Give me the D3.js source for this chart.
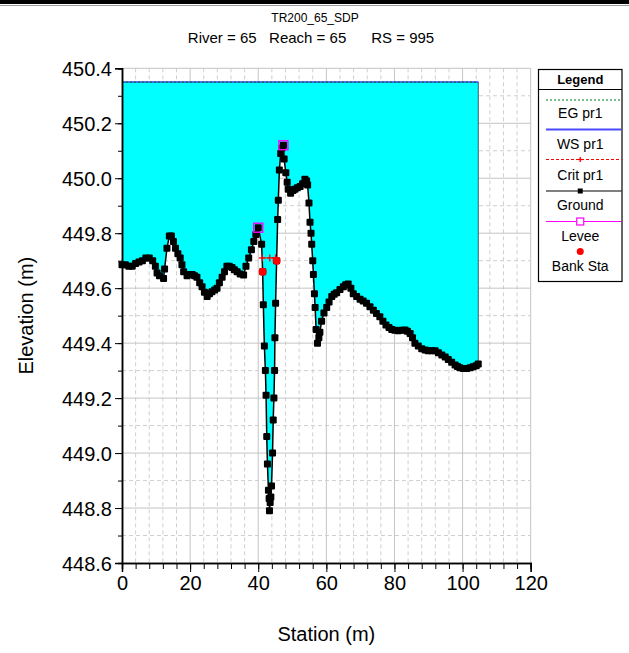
<!DOCTYPE html>
<html>
<head>
<meta charset="utf-8">
<script src="https://cdn.jsdelivr.net/npm/d3@7"></script>
<style>
  html, body { margin: 0; padding: 0; background: #fff; }
  svg { display: block; font-family: "Liberation Sans", Arial, sans-serif; }
</style>
</head>
<body>
<svg id="chart" width="629" height="653"></svg>
<script>
// Cross section TR200_65_SDP, RS 995
const titleLine1 = "TR200_65_SDP";
const titleLine2 = "River = 65   Reach = 65      RS = 995";

// Ground survey points (station m, elevation m)
const groundSta = [
  0, 1, 2, 3, 4, 5, 6, 7, 8, 9, 9.8, 10.3, 11, 12.2, 12.5, 13.2, 13.9, 14.5, 15.1, 15.7,
  16.4, 17.1, 17.6, 18.1, 19.1, 20.0, 20.6, 21.3, 22.0, 22.8, 23.5, 24.2, 25.0, 25.7, 26.4,
  27.2, 27.9, 28.6, 29.4, 30.1, 30.8, 31.5, 32.3, 33.0, 33.8, 34.7, 35.7, 36.4, 37.2, 38.0,
  38.7, 39.3, 40.0, 41.0, 41.3, 41.5, 41.8, 42.1, 42.3, 42.5, 42.7, 43.0, 43.2, 43.3, 43.5,
  43.7, 43.9, 44.2, 44.4, 44.6, 44.8, 44.9, 45.1, 45.4, 45.7, 45.9, 46.2, 46.6, 47.0, 47.4,
  47.6, 48.1, 48.5, 48.8, 49.5, 50.2, 50.8, 51.5, 52.3, 53.0, 53.7, 54.2, 54.5, 54.9, 55.2,
  55.5, 55.7, 56.0, 56.2, 56.5, 56.7, 57.0, 57.4, 57.8, 58.1, 58.6, 59.3, 60.1, 60.8, 61.6,
  62.3, 63.0, 64.0, 65.0, 65.7, 66.4, 67.2, 67.9, 68.9, 69.9, 70.8, 71.8, 72.8, 73.8, 74.7,
  75.7, 76.6, 77.5, 78.4, 79.2, 80.1, 81.1, 82.1, 83.1, 83.8, 84.6, 85.3, 86.0, 87.0, 88.0,
  89.0, 89.9, 90.9, 91.9, 92.9, 93.9, 94.9, 95.8, 96.8, 97.8, 98.5, 99.2, 100.2, 101.2, 102.2,
  103.1, 104.0, 104.6
];
const groundElev = [
  449.685, 449.685, 449.68, 449.68, 449.69, 449.695, 449.70, 449.71, 449.71, 449.70, 449.68, 449.655, 449.645, 449.635, 449.67, 449.745, 449.79, 449.79, 449.77, 449.745,
  449.725, 449.71, 449.685, 449.66, 449.645, 449.65, 449.65, 449.645, 449.64, 449.62, 449.605, 449.585, 449.57, 449.58, 449.587,
  449.593, 449.60, 449.62, 449.64, 449.66, 449.68, 449.68, 449.675, 449.667, 449.66, 449.652, 449.648, 449.68, 449.71, 449.74,
  449.77, 449.795, 449.82, 449.76, 449.66, 449.54, 449.39, 449.30, 449.21, 449.06, 448.96, 448.865, 448.835, 448.79, 448.82,
  448.84, 448.88, 449.00, 449.12, 449.20, 449.30, 449.42, 449.545, 449.70, 449.85, 449.92, 450.03, 450.09, 450.11, 450.12,
  450.07, 450.02, 449.985, 449.96, 449.945, 449.955, 449.96, 449.965, 449.97, 449.98, 449.996, 449.99, 449.975, 449.91, 449.84,
  449.80, 449.76, 449.70, 449.65, 449.58, 449.53, 449.45, 449.40, 449.42, 449.44, 449.48, 449.51, 449.53, 449.55, 449.57,
  449.578, 449.583, 449.595, 449.605, 449.612, 449.615, 449.60, 449.58, 449.57, 449.56, 449.553, 449.545, 449.532, 449.52, 449.508,
  449.496, 449.48, 449.466, 449.457, 449.45, 449.447, 449.445, 449.447, 449.448, 449.443, 449.435, 449.42, 449.40, 449.39, 449.38,
  449.375, 449.372, 449.372, 449.372, 449.365, 449.357, 449.35, 449.34, 449.33, 449.32, 449.315, 449.31, 449.308, 449.308, 449.31,
  449.314, 449.318, 449.324
];

// Profile results
const wsElev = 450.35;      // WS pr1
const egElev = 450.35;      // EG pr1
const critSta = [41.2, 43.4, 45.1];
const critElev = 449.71;    // Crit pr1
const bankSta = [41.3, 45.4];
const bankElev = [449.66, 449.70];
const leveeSta = [40.0, 47.4];
const leveeElev = [449.82, 450.12];

// Axis ticks
const xMajorTicks = [0, 20, 40, 60, 80, 100, 120];
const xMinorTicks = d3.range(0, 121, 4);
const yMajorTicks = [448.6, 448.8, 449.0, 449.2, 449.4, 449.6, 449.8, 450.0, 450.2, 450.4];
const yMinorTicks = d3.range(0, 19).map(i => +(448.6 + i * 0.1).toFixed(1));

const legendNames = ["EG pr1", "WS pr1", "Crit pr1", "Ground", "Levee", "Bank Sta"];

const svg = d3.select("#chart");
const W = 629, H = 653;
const plot = { left: 122, right: 530.7, top: 68.3, bottom: 563 };

const x = d3.scaleLinear().domain([0, 120]).range([plot.left, plot.right]);
const y = d3.scaleLinear().domain([448.6, 450.4]).range([plot.bottom, plot.top]);

// window frame strip
svg.append("rect").attr("x", 0).attr("y", 0).attr("width", W).attr("height", 4).attr("fill", "#000");
svg.append("line").attr("x1", 0).attr("x2", W).attr("y1", 5.5).attr("y2", 5.5)
  .attr("stroke", "#9a9a9a").attr("stroke-width", 1);

// titles
svg.append("text").attr("x", 315).attr("y", 22).attr("text-anchor", "middle")
  .attr("font-size", 12).text(titleLine1);
svg.append("text").attr("x", 311).attr("y", 43).attr("text-anchor", "middle")
  .attr("font-size", 15).attr("xml:space", "preserve").style("white-space", "pre")
  .text(titleLine2);

// grid
const grid = svg.append("g");
xMinorTicks.forEach(v => {
  const major = v % 20 === 0;
  if (v === 0) return;
  grid.append("line")
    .attr("x1", x(v)).attr("x2", x(v)).attr("y1", plot.top).attr("y2", plot.bottom)
    .attr("stroke", major ? "#c4c4c4" : "#cfcfcf").attr("stroke-width", 1)
    .attr("stroke-dasharray", major ? null : "4,3");
});
yMinorTicks.forEach((v, i) => {
  if (i === 0) return;
  const major = i % 2 === 0;
  grid.append("line")
    .attr("x1", plot.left).attr("x2", plot.right).attr("y1", y(v)).attr("y2", y(v))
    .attr("stroke", major ? "#c4c4c4" : "#cfcfcf").attr("stroke-width", 1)
    .attr("stroke-dasharray", major ? null : "4,3");
});

const ground = groundSta.map((s, i) => [s, groundElev[i]]);
const s0 = groundSta[0], s1 = groundSta[groundSta.length - 1];

// water between WS and ground
const waterPts = [[s0, wsElev], [s1, wsElev]].concat(ground.slice().reverse());
svg.append("path")
  .attr("d", d3.line().x(d => x(d[0])).y(d => y(d[1]))(waterPts) + "Z")
  .attr("fill", "#00ffff").attr("stroke", "none");
svg.append("line").attr("x1", x(s1)).attr("x2", x(s1)).attr("y1", y(wsElev)).attr("y2", y(groundElev[groundElev.length - 1]))
  .attr("stroke", "#3a5a66").attr("stroke-width", 1);

// WS and EG
svg.append("line").attr("x1", x(s0)).attr("x2", x(s1)).attr("y1", y(wsElev)).attr("y2", y(wsElev))
  .attr("stroke", "#3d3dff").attr("stroke-width", 1.6);
svg.append("line").attr("x1", x(s0)).attr("x2", x(s1)).attr("y1", y(egElev)).attr("y2", y(egElev))
  .attr("stroke", "#007a20").attr("stroke-width", 1.2).attr("stroke-dasharray", "2,2");

// ground
svg.append("path")
  .attr("d", d3.line().x(d => x(d[0])).y(d => y(d[1]))(ground))
  .attr("fill", "none").attr("stroke", "#000").attr("stroke-width", 1.5);
svg.append("g").selectAll("rect").data(ground).join("rect")
  .attr("x", d => x(d[0]) - 3.5).attr("y", d => y(d[1]) - 3.5)
  .attr("width", 7).attr("height", 7).attr("rx", 1).attr("fill", "#000");

// critical depth
svg.append("line").attr("x1", x(critSta[0])).attr("x2", x(critSta[critSta.length - 1]))
  .attr("y1", y(critElev)).attr("y2", y(critElev))
  .attr("stroke", "#ff0000").attr("stroke-width", 1).attr("stroke-dasharray", "3,2");
const plus = (g, cx, cy, r) => {
  g.append("line").attr("x1", cx - r).attr("x2", cx + r).attr("y1", cy).attr("y2", cy).attr("stroke", "#ff0000").attr("stroke-width", 1.3);
  g.append("line").attr("x1", cx).attr("x2", cx).attr("y1", cy - r).attr("y2", cy + r).attr("stroke", "#ff0000").attr("stroke-width", 1.3);
};
const critG = svg.append("g");
critSta.forEach(s => plus(critG, x(s), y(critElev), 3.5));

// bank stations
svg.append("g").selectAll("circle").data(bankSta).join("circle")
  .attr("cx", d => x(d)).attr("cy", (d, i) => y(bankElev[i])).attr("r", 4)
  .attr("fill", "#ff0000");

// levees
svg.append("g").selectAll("rect").data(leveeSta).join("rect")
  .attr("x", d => x(d) - 4.5).attr("y", (d, i) => y(leveeElev[i]) - 4.5)
  .attr("width", 9).attr("height", 9).attr("fill", "none")
  .attr("stroke", "#ff00ff").attr("stroke-width", 1.4);

// axes
const axisFont = 20;
const yAxisMinor = d3.axisLeft(y).tickValues(yMinorTicks).tickSize(4).tickFormat("");
const yAxisMajor = d3.axisLeft(y).tickValues(yMajorTicks).tickSize(7).tickPadding(3).tickFormat(d3.format(".1f"));
const xAxisMinor = d3.axisBottom(x).tickValues(xMinorTicks).tickSize(6).tickFormat("");
const xAxisMajor = d3.axisBottom(x).tickValues(xMajorTicks).tickSize(9).tickPadding(4).tickFormat(d3.format("d"));

function styleAxis(g) {
  g.select(".domain").attr("stroke", "#000").attr("stroke-width", 1.5);
  g.selectAll(".tick line").attr("stroke", "#000").attr("stroke-width", 1);
  g.selectAll(".tick text").attr("fill", "#000").attr("font-size", axisFont)
    .attr("font-family", "Liberation Sans, Arial, sans-serif");
}
svg.append("g").attr("transform", `translate(${plot.left},0)`).call(yAxisMinor).call(styleAxis);
svg.append("g").attr("transform", `translate(${plot.left},0)`).call(yAxisMajor).call(styleAxis)
  .selectAll(".tick text").attr("dy", "0.36em");
svg.append("g").attr("transform", `translate(0,${plot.bottom})`).call(xAxisMinor).call(styleAxis);
svg.append("g").attr("transform", `translate(0,${plot.bottom})`).call(xAxisMajor).call(styleAxis);

svg.append("text").attr("x", (plot.left + plot.right) / 2).attr("y", 641)
  .attr("text-anchor", "middle").attr("font-size", 20).text("Station (m)");
svg.append("text").attr("transform", `translate(33,${(plot.top + plot.bottom) / 2}) rotate(-90)`)
  .attr("text-anchor", "middle").attr("font-size", 20).text("Elevation (m)");

// legend
const lg = svg.append("g");
const L = { x0: 538.5, x1: 622, top: 69.5, head: 89.5, bottom: 281.5 };
lg.append("rect").attr("x", L.x0).attr("y", L.top).attr("width", L.x1 - L.x0).attr("height", L.bottom - L.top)
  .attr("fill", "#fff").attr("stroke", "#000").attr("stroke-width", 1.2);
lg.append("line").attr("x1", L.x0).attr("x2", L.x1).attr("y1", L.head).attr("y2", L.head)
  .attr("stroke", "#000").attr("stroke-width", 1);
const lcx = (L.x0 + L.x1) / 2;
lg.append("text").attr("x", lcx).attr("y", 84).attr("text-anchor", "middle")
  .attr("font-size", 13).attr("font-weight", "bold").text("Legend");
const symY = [100, 129.5, 159.5, 191, 221.5, 251.5];
const lblY = [118, 149, 180, 210, 240.5, 270.5];
const sx0 = 546, sx1 = 621.5;
legendNames.forEach((name, i) => {
  lg.append("text").attr("x", lcx).attr("y", lblY[i]).attr("text-anchor", "middle")
    .attr("font-size", 14).text(name);
});
lg.append("line").attr("x1", sx0).attr("x2", sx1).attr("y1", symY[0]).attr("y2", symY[0])
  .attr("stroke", "#007a20").attr("stroke-width", 1.2).attr("stroke-dasharray", "2,2");
lg.append("line").attr("x1", sx0).attr("x2", sx1).attr("y1", symY[1]).attr("y2", symY[1])
  .attr("stroke", "#4a4aff").attr("stroke-width", 1.8);
lg.append("line").attr("x1", sx0).attr("x2", sx1).attr("y1", symY[2]).attr("y2", symY[2])
  .attr("stroke", "#ff0000").attr("stroke-width", 1).attr("stroke-dasharray", "3,2");
plus(lg, lcx, symY[2], 2.5);
lg.append("line").attr("x1", sx0).attr("x2", sx1).attr("y1", symY[3]).attr("y2", symY[3])
  .attr("stroke", "#000").attr("stroke-width", 1.2);
lg.append("rect").attr("x", lcx - 2.5).attr("y", symY[3] - 2.5).attr("width", 5).attr("height", 5).attr("fill", "#000");
lg.append("line").attr("x1", sx0).attr("x2", sx1).attr("y1", symY[4]).attr("y2", symY[4])
  .attr("stroke", "#ff00ff").attr("stroke-width", 1.2);
lg.append("rect").attr("x", lcx - 3.5).attr("y", symY[4] - 3.5).attr("width", 7).attr("height", 7)
  .attr("fill", "#fff").attr("stroke", "#ff00ff").attr("stroke-width", 1.2);
lg.append("circle").attr("cx", lcx).attr("cy", symY[5]).attr("r", 3.5).attr("fill", "#ff0000");
</script>
</body>
</html>
